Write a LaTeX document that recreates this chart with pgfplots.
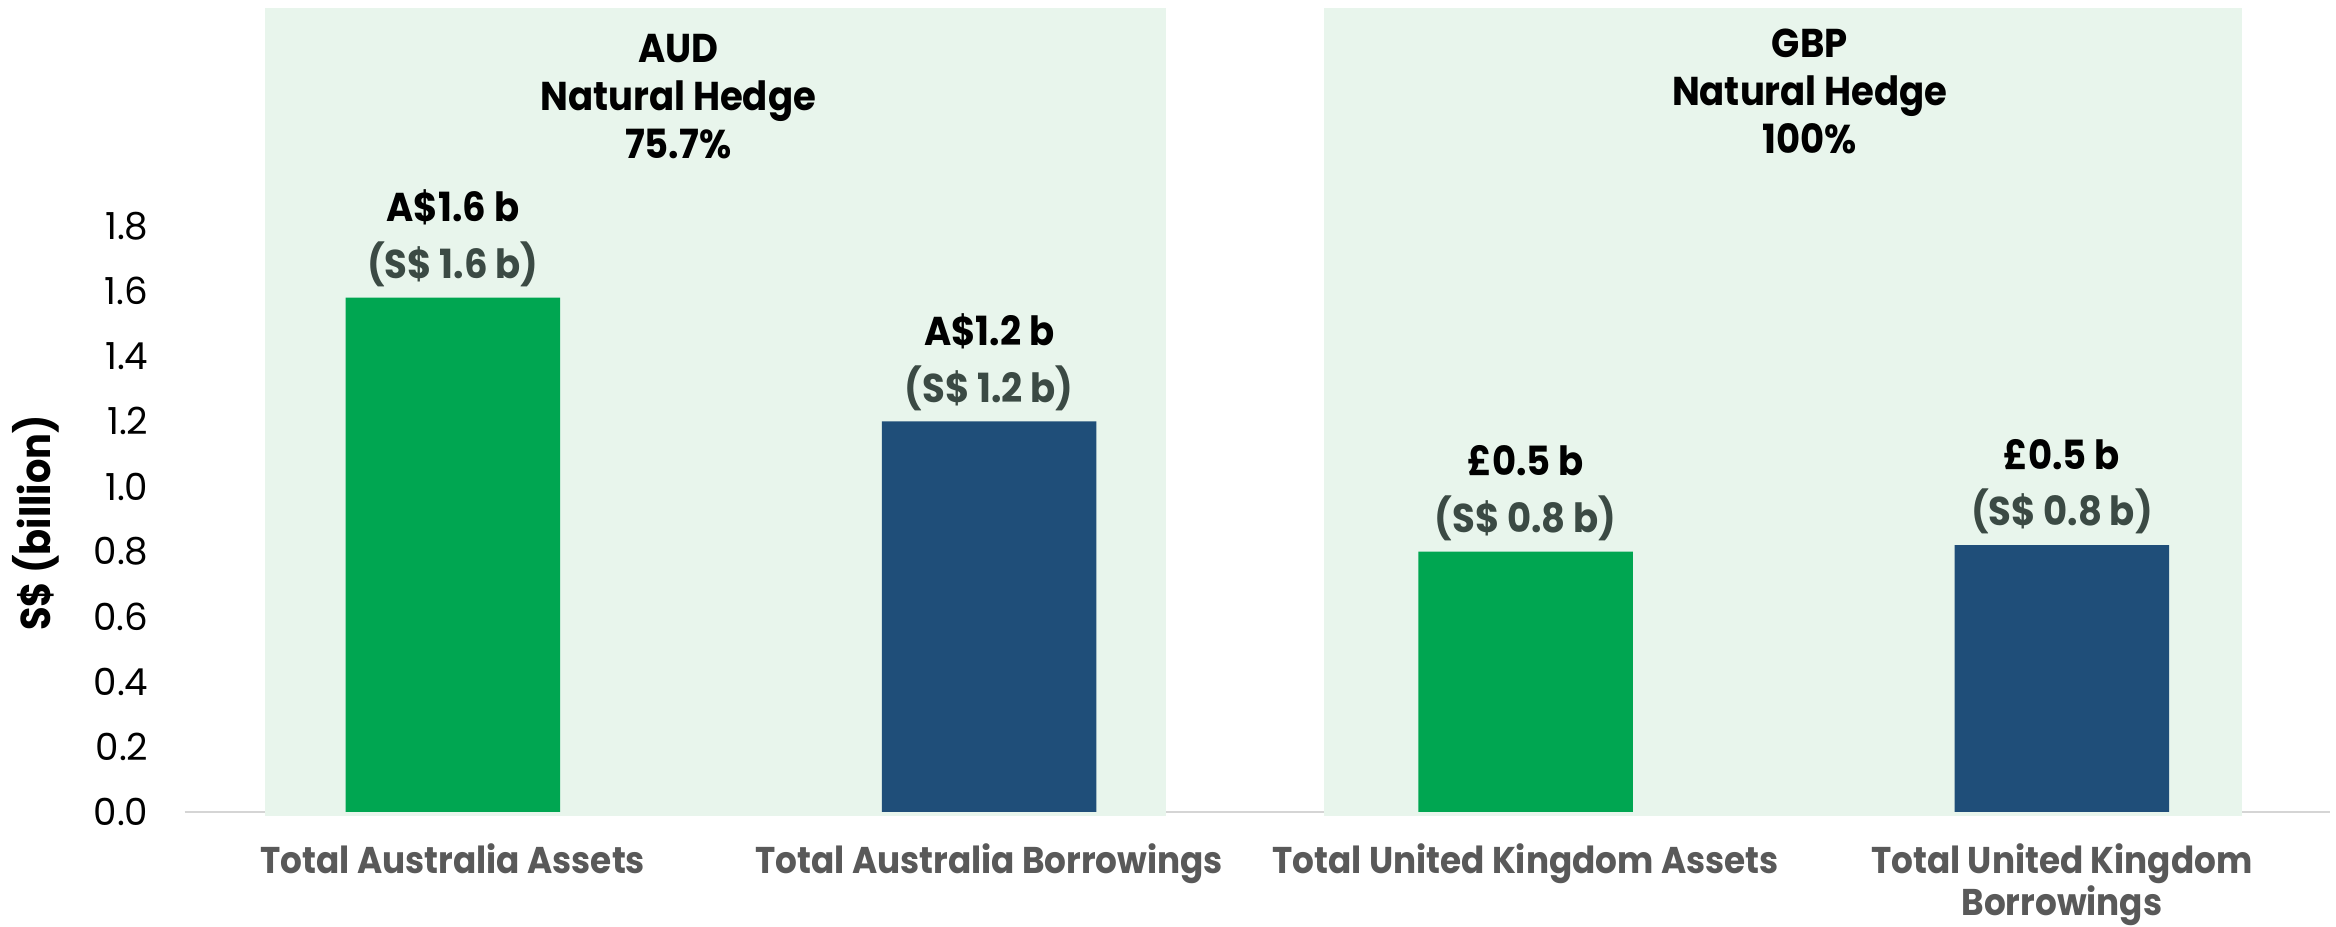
\documentclass[border=0pt]{standalone}
\usepackage{fontspec}
\setmainfont{Poppins}[BoldFeatures={FakeStretch=0.92}]
\usepackage{pgfplots}
\usepackage{pgfplotstable}
\pgfplotsset{compat=1.18}
\definecolor{barGreen}{HTML}{00A651}
\definecolor{barBlue}{HTML}{1F4E79}
\definecolor{shade}{HTML}{E8F5EC}
\definecolor{subGray}{HTML}{3B4A44}
\definecolor{catGray}{HTML}{595959}
\definecolor{axGray}{HTML}{D5D5D5}

\pgfplotstableread[col sep=comma]{
x,y,top,sub
0,1.58,A\$1.6 b,(S\$ 1.6 b)
2,0.80,£0.5 b,(S\$ 0.8 b)
}\greendata
\pgfplotstableread[col sep=comma]{
x,y,top,sub
1,1.20,A\$1.2 b,(S\$ 1.2 b)
3,0.82,£0.5 b,(S\$ 0.8 b)
}\bluedata

\newcommand{\lblfont}{\fontsize{13.5}{16}\selectfont\bfseries}

\begin{document}
\begin{tikzpicture}
\useasboundingbox (-62pt,-38.5pt) rectangle (722pt,272.5pt);
\begin{axis}[
  at={(0pt,0pt)}, anchor=south west,
  scale only axis, width=720pt, height=270.9pt,
  xmin=-0.5, xmax=3.5, ymin=0, ymax=2.48,
  clip=false,
  axis x line*=bottom, axis y line*=left,
  x axis line style={draw=axGray, line width=0.8pt},
  y axis line style={draw=none},
  xtick={0,1,2,3},
  xticklabels={Total Australia Assets, Total Australia Borrowings, Total United Kingdom Assets, {Total United Kingdom\\Borrowings}},
  ytick={0,0.2,...,1.8},
  major tick length=0pt,
  /pgf/number format/assume math mode=true,
  yticklabel style={/pgf/number format/.cd, fixed, fixed zerofill, precision=1, /tikz/.cd,
    font=\fontsize{12.5}{15}\selectfont, anchor=east, inner sep=0pt, xshift=-12pt},
  xticklabel style={font=\fontsize{12.5}{14}\selectfont\bfseries, text=catGray,
    anchor=north, inner sep=0pt, yshift=-10.5pt, align=center},
  ylabel={S\$ (billion)},
  every axis y label/.style={at={(rel axis cs:0,0.358)}, xshift=-50pt, rotate=90,
    anchor=center, font=\fontsize{14}{16}\selectfont\bfseries},
]
% shaded panels
\addplot[fill=shade, draw=none, forget plot] coordinates {(-0.35,-0.012) (1.33,-0.012) (1.33,2.47) (-0.35,2.47)} -- cycle;
\addplot[fill=shade, draw=none, forget plot] coordinates {(1.625,-0.012) (3.335,-0.012) (3.335,2.47) (1.625,2.47)} -- cycle;

% bars with sub labels
\addplot[ybar, bar shift=0pt, bar width=72pt, fill=barGreen, draw=none,
  point meta=explicit symbolic, nodes near coords,
  nodes near coords style={anchor=base, yshift=6.5pt, inner sep=0pt, font=\lblfont, text=subGray}]
  table[x=x, y=y, meta=sub]{\greendata};
\addplot[ybar, bar shift=0pt, bar width=72pt, fill=barBlue, draw=none,
  point meta=explicit symbolic, nodes near coords,
  nodes near coords style={anchor=base, yshift=6.5pt, inner sep=0pt, font=\lblfont, text=subGray}]
  table[x=x, y=y, meta=sub]{\bluedata};
% top labels
\addplot[ybar, bar shift=0pt, bar width=72pt, draw=none, fill=none, forget plot,
  point meta=explicit symbolic, nodes near coords,
  nodes near coords style={anchor=base, yshift=25.5pt, inner sep=0pt, font=\lblfont, text=black}]
  table[x=x, y=y, meta=top]{\greendata};
\addplot[ybar, bar shift=0pt, bar width=72pt, draw=none, fill=none, forget plot,
  point meta=explicit symbolic, nodes near coords,
  nodes near coords style={anchor=base, yshift=25.5pt, inner sep=0pt, font=\lblfont, text=black}]
  table[x=x, y=y, meta=top]{\bluedata};

% panel titles (anchor=base = baseline of the last line)
\node[align=center, anchor=base, inner sep=0pt, font=\lblfont] at (axis cs:0.42,2.009) {AUD\\Natural Hedge\\75.7\%};
\node[align=center, anchor=base, inner sep=0pt, font=\lblfont] at (axis cs:2.53,2.024) {GBP\\Natural Hedge\\100\%};
\end{axis}
\end{tikzpicture}
\end{document}
